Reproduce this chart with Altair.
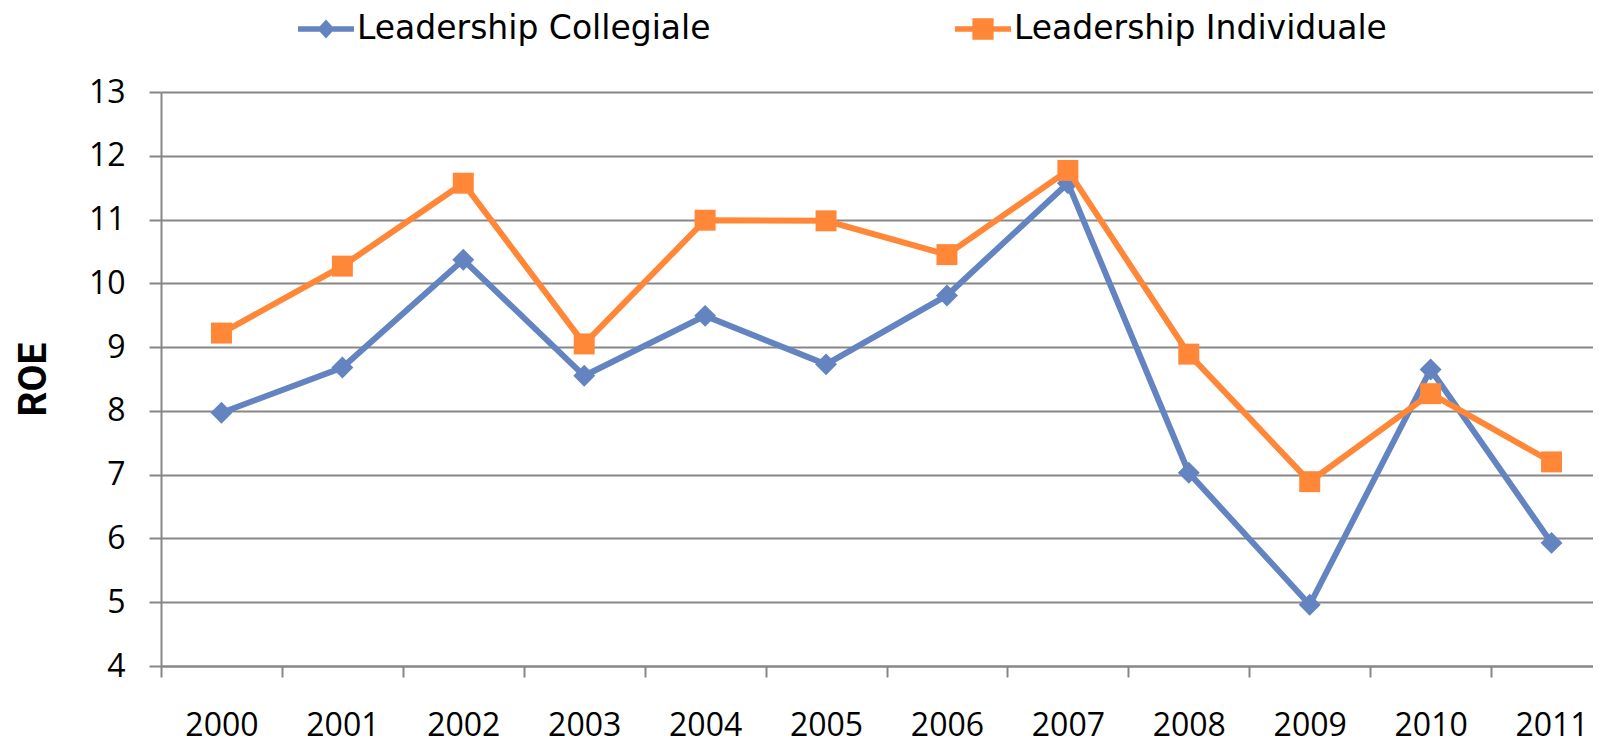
import altair as alt
import pandas as pd

# ---- data ----
years = ["2000", "2001", "2002", "2003", "2004", "2005",
         "2006", "2007", "2008", "2009", "2010", "2011"]
collegiale = [7.97, 8.68, 10.37, 8.55, 9.49, 8.73, 9.81, 11.57, 7.03, 4.96, 8.65, 5.93]
individuale = [9.22, 10.27, 11.57, 9.05, 10.99, 10.98, 10.45, 11.77, 8.89, 6.89, 8.27, 7.20]
series_names = ["Leadership Collegiale", "Leadership Individuale"]
colors = ["#6384C1", "#FF8737"]
y_ticks = [4, 5, 6, 7, 8, 9, 10, 11, 12, 13]

df = pd.DataFrame({
    "year": years * 2,
    "series": [series_names[0]] * len(years) + [series_names[1]] * len(years),
    "ROE": collegiale + individuale,
})

GRAY = "#878787"

# legend symbols: line with marker on top (custom paths in [-1, 1])
diamond_leg = ("M-1,-0.1L-0.22,-0.1L0,-0.34L0.22,-0.1L1,-0.1L1,0.1"
               "L0.22,0.1L0,0.34L-0.22,0.1L-1,0.1Z")
square_leg = ("M-1,-0.1L-0.38,-0.1L-0.38,-0.38L0.38,-0.38L0.38,-0.1L1,-0.1"
              "L1,0.1L0.38,0.1L0.38,0.38L-0.38,0.38L-0.38,0.1L-1,0.1Z")

x_enc = alt.X(
    "year:N",
    sort=years,
    scale=alt.Scale(type="band", domain=years, range=[0, 1451],
                    paddingInner=0, paddingOuter=0),
    axis=alt.Axis(
        title=None, labelAngle=0, tickBand="extent", grid=False,
        tickSize=11, tickWidth=2, tickColor=GRAY,
        domainColor=GRAY, domainWidth=2,
        labelFont="Open Sans", labelFontSize=32, labelColor="black",
        labelPadding=33,
    ),
)

y_enc = alt.Y(
    "ROE:Q",
    scale=alt.Scale(domain=[4, 13], nice=False, zero=False),
    axis=alt.Axis(
        values=y_ticks, title="ROE", grid=True,
        gridColor=GRAY, gridWidth=2,
        tickSize=12, tickWidth=2, tickColor=GRAY,
        domainColor=GRAY, domainWidth=2,
        labelFont="Open Sans", labelFontSize=32, labelColor="black",
        labelPadding=24,
        titleFont="Roboto", titleFontSize=39, titleFontWeight="bold",
        titleColor="black", titleAngle=270, titleAlign="center",
        titleBaseline="middle", titleX=-128, titleY=287,
    ),
)

base = alt.Chart(df)

layers = []
for name, col, shp, sz in [(series_names[0], colors[0], "diamond", 480),
                           (series_names[1], colors[1], "square", 440)]:
    sub = base.transform_filter(alt.datum.series == name)
    layers.append(sub.mark_line(strokeWidth=6, color=col).encode(x=x_enc, y=y_enc))
    layers.append(sub.mark_point(shape=shp, filled=True, size=sz, opacity=1,
                                 color=col, strokeWidth=0).encode(x=x_enc, y=y_enc))

leg = alt.Legend(
    title=None, orient="none", legendX=137, legendY=-91,
    direction="horizontal", symbolSize=3136, symbolStrokeWidth=0,
    symbolOpacity=1, labelFont="DejaVu Sans", labelFontSize=33,
    labelColor="black", labelOffset=3, columnPadding=244, padding=0,
    labelBaseline="middle", labelLimit=1000,
)

legend_layer = base.transform_filter("datum.ROE > 100").mark_point(
    filled=True, opacity=1
).encode(
    x=x_enc, y=y_enc,
    color=alt.Color("series:N", scale=alt.Scale(domain=series_names, range=colors), legend=leg),
    shape=alt.Shape("series:N", scale=alt.Scale(domain=series_names,
                                                 range=[diamond_leg, square_leg]), legend=leg),
)
layers.append(legend_layer)

chart = alt.layer(*layers).properties(
    width=1432, height=574,
    autosize=alt.AutoSizeParams(type="none"),
    padding={"left": 153, "top": 84, "right": 0, "bottom": 77},
    background="white",
).configure_view(stroke=None)

chart.save("out.html", embed_options={"renderer": "svg", "actions": False})
